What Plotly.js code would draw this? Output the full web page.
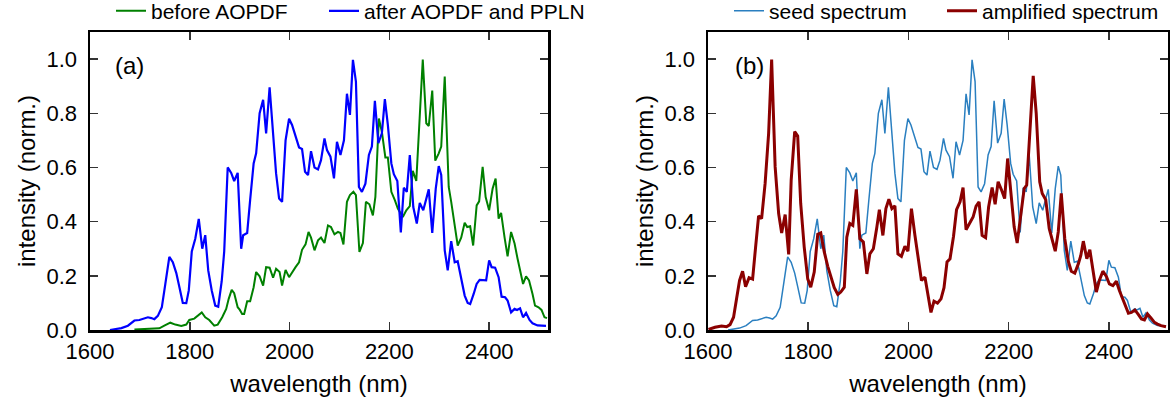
<!DOCTYPE html>
<html>
<head>
<meta charset="utf-8">
<script src="https://cdn.plot.ly/plotly-3.0.1.min.js"></script>
<style>html,body{margin:0;padding:0;background:#fff;}#chart{width:1170px;height:403px;}</style>
</head>
<body>
<div id="chart"></div>
<script>
// (a) after AOPDF and PPLN  (also the seed spectrum in (b))
const wlAfter = [1640,1650,1663,1676,1689,1699,1706,1716,1723,1729,1736,1744,1751,1759,1766,1773,1779,1786,1793,1798,1804,1811,1818,1825,1831,1837,1844,1851,1857,1864,1869,1876,1883,1889,1896,1903,1907,1915,1921,1928,1933,1940,1947,1953,1960,1967,1973,1979,1985,1992,1999,2005,2012,2019,2025,2031,2037,2043,2050,2057,2063,2070,2075,2082,2089,2095,2102,2109,2115,2121,2127,2133,2139,2145,2152,2159,2165,2171,2178,2185,2191,2197,2204,2209,2216,2223,2229,2235,2241,2248,2255,2261,2268,2273,2279,2286,2293,2299,2304,2311,2317,2324,2331,2337,2344,2351,2357,2362,2369,2375,2381,2387,2394,2400,2405,2412,2419,2425,2432,2437,2444,2451,2456,2462,2468,2474,2481,2487,2497,2514];
const afterAOPDF = [0,0.003,0.007,0.016,0.035,0.037,0.04,0.047,0.044,0.04,0.052,0.084,0.17,0.27,0.25,0.21,0.16,0.10,0.099,0.146,0.29,0.337,0.41,0.30,0.35,0.22,0.146,0.09,0.086,0.18,0.29,0.60,0.58,0.55,0.58,0.30,0.35,0.358,0.48,0.615,0.652,0.80,0.85,0.726,0.896,0.738,0.578,0.485,0.473,0.70,0.78,0.757,0.714,0.674,0.668,0.584,0.572,0.66,0.60,0.593,0.627,0.707,0.664,0.64,0.56,0.695,0.646,0.70,0.872,0.794,0.997,0.917,0.528,0.51,0.54,0.646,0.677,0.846,0.69,0.726,0.852,0.757,0.615,0.575,0.55,0.36,0.525,0.51,0.646,0.454,0.393,0.469,0.442,0.479,0.519,0.358,0.522,0.605,0.572,0.294,0.22,0.328,0.25,0.254,0.183,0.127,0.10,0.096,0.133,0.17,0.185,0.185,0.183,0.257,0.232,0.23,0.195,0.123,0.121,0.109,0.065,0.078,0.074,0.08,0.047,0.063,0.037,0.025,0.017,0.015];

// (a) before AOPDF
const wlBefore = [1689,1723,1739,1749,1761,1771,1783,1793,1799,1809,1816,1824,1831,1839,1849,1856,1865,1873,1878,1884,1889,1896,1900,1905,1909,1915,1921,1928,1933,1940,1947,1953,1960,1967,1973,1980,1985,1992,1999,2005,2012,2019,2025,2032,2038,2043,2050,2057,2063,2070,2077,2083,2090,2097,2102,2108,2115,2121,2128,2133,2140,2147,2153,2160,2167,2172,2179,2185,2192,2197,2204,2211,2217,2227,2234,2241,2247,2254,2261,2267,2274,2279,2286,2292,2299,2304,2311,2319,2324,2331,2337,2344,2351,2356,2362,2368,2375,2380,2387,2393,2400,2407,2413,2419,2424,2431,2437,2444,2451,2457,2463,2468,2474,2480,2487,2492,2499,2505,2511,2516];
const beforeAOPDF = [0.002,0.004,0.006,0.016,0.027,0.02,0.015,0.02,0.037,0.042,0.052,0.065,0.047,0.037,0.016,0.02,0.047,0.078,0.115,0.148,0.136,0.084,0.075,0.059,0.059,0.106,0.106,0.158,0.214,0.198,0.164,0.232,0.23,0.193,0.226,0.214,0.164,0.222,0.195,0.214,0.232,0.25,0.296,0.316,0.362,0.341,0.294,0.331,0.341,0.321,0.386,0.38,0.353,0.362,0.358,0.316,0.473,0.498,0.51,0.498,0.288,0.321,0.473,0.464,0.423,0.491,0.781,0.732,0.637,0.637,0.51,0.479,0.448,0.417,0.442,0.457,0.588,0.55,0.794,0.998,0.763,0.753,0.884,0.625,0.652,0.677,0.936,0.528,0.473,0.393,0.312,0.341,0.396,0.38,0.383,0.312,0.46,0.475,0.602,0.491,0.442,0.522,0.559,0.411,0.432,0.341,0.272,0.362,0.319,0.263,0.214,0.17,0.198,0.183,0.133,0.09,0.084,0.074,0.047,0.044];

// (b) seed spectrum = spectrum after AOPDF and PPLN
const wlSeed = wlAfter;
const seedSpectrum = afterAOPDF;

// (b) amplified spectrum
const wlAmp = [1601,1614,1627,1637,1644,1651,1657,1663,1669,1675,1682,1689,1695,1701,1707,1714,1721,1727,1734,1741,1747,1754,1761,1766,1773,1779,1785,1792,1799,1805,1812,1819,1825,1832,1839,1845,1852,1859,1865,1872,1877,1883,1889,1896,1903,1910,1917,1923,1930,1937,1942,1949,1955,1961,1967,1973,1979,1986,1993,1999,2006,2013,2019,2026,2033,2039,2045,2051,2058,2065,2071,2077,2083,2090,2096,2103,2109,2115,2122,2129,2135,2141,2147,2154,2160,2167,2173,2179,2186,2192,2198,2203,2211,2217,2224,2231,2236,2243,2249,2255,2262,2267,2274,2281,2287,2293,2299,2305,2312,2319,2325,2332,2339,2344,2349,2356,2362,2368,2375,2381,2388,2395,2401,2408,2415,2421,2428,2434,2439,2445,2452,2459,2465,2471,2477,2484,2491,2497,2504,2514];
const amplified = [0.002,0.01,0.015,0.012,0.02,0.047,0.115,0.183,0.217,0.16,0.193,0.188,0.306,0.421,0.411,0.541,0.726,0.998,0.602,0.43,0.358,0.426,0.279,0.553,0.732,0.716,0.467,0.306,0.189,0.158,0.214,0.353,0.358,0.288,0.235,0.195,0.156,0.131,0.14,0.158,0.343,0.393,0.386,0.519,0.337,0.325,0.207,0.281,0.30,0.38,0.444,0.349,0.448,0.483,0.448,0.458,0.281,0.272,0.309,0.291,0.448,0.349,0.269,0.183,0.195,0.121,0.065,0.106,0.099,0.115,0.156,0.251,0.263,0.346,0.444,0.473,0.526,0.37,0.393,0.417,0.457,0.473,0.349,0.341,0.454,0.526,0.464,0.547,0.516,0.485,0.633,0.535,0.38,0.321,0.43,0.522,0.535,0.738,0.938,0.80,0.547,0.504,0.481,0.374,0.331,0.291,0.362,0.504,0.337,0.254,0.217,0.21,0.244,0.275,0.328,0.263,0.296,0.226,0.14,0.183,0.217,0.198,0.17,0.164,0.18,0.146,0.111,0.084,0.062,0.065,0.074,0.057,0.041,0.037,0.059,0.044,0.028,0.022,0.016,0.012];

const xTicks = [1600,1800,2000,2200,2400];
const yTicks = [0,0.2,0.4,0.6,0.8,1.0];
const xLabel = 'wavelength (nm)';
const yLabel = 'intensity (norm.)';
const panelLabels = ['(a)','(b)'];

const FONT = 'Liberation Sans, Arial, sans-serif';

const traces = [
  {x: wlBefore, y: beforeAOPDF, name: 'before AOPDF', type: 'scatter', mode: 'lines',
   line: {color: '#008000', width: 2}, xaxis: 'x', yaxis: 'y', legend: 'legend'},
  {x: wlAfter, y: afterAOPDF, name: 'after AOPDF and PPLN', type: 'scatter', mode: 'lines',
   line: {color: '#0000ff', width: 2.2}, xaxis: 'x', yaxis: 'y', legend: 'legend2'},
  {x: wlSeed, y: seedSpectrum, name: 'seed spectrum', type: 'scatter', mode: 'lines',
   line: {color: '#2a7fc0', width: 1.5}, xaxis: 'x2', yaxis: 'y2', legend: 'legend3'},
  {x: wlAmp, y: amplified, name: 'amplified spectrum', type: 'scatter', mode: 'lines',
   line: {color: '#8b0000', width: 3}, xaxis: 'x2', yaxis: 'y2', legend: 'legend4'}
];

function xax(domain, anchor) {
  return {
    domain: domain, anchor: anchor, range: [1600, 2518],
    tickvals: xTicks, ticktext: xTicks.map(String),
    ticks: 'inside', ticklen: 8, tickwidth: 1.5, tickcolor: '#333',
    showline: true, linewidth: 2.5, linecolor: '#000', mirror: 'ticks',
    showgrid: false, zeroline: false, automargin: false,
    tickfont: {family: FONT, size: 22, color: '#000'},
    title: {text: xLabel, font: {family: FONT, size: 24, color: '#000'}, standoff: 13}
  };
}
function yax(anchor) {
  return {
    domain: [0, 1], anchor: anchor, range: [0, 1.1],
    tickvals: yTicks, ticktext: yTicks.map(v => v.toFixed(1)),
    ticks: 'inside', ticklen: 8, tickwidth: 1.5, tickcolor: '#333',
    showline: true, linewidth: 2.5, linecolor: '#000', mirror: 'ticks',
    showgrid: false, zeroline: false, automargin: false,
    ticklabelstandoff: 6,
    tickfont: {family: FONT, size: 22, color: '#000'},
    title: {text: yLabel, font: {family: FONT, size: 24, color: '#000'}, standoff: 4}
  };
}
function leg(x) {
  return {x: x, y: 1.07, xanchor: 'left', yanchor: 'middle', orientation: 'h',
    font: {family: FONT, size: 21, color: '#000'}, bgcolor: 'rgba(0,0,0,0)', borderwidth: 0};
}

const layout = {
  width: 1170, height: 403,
  margin: {l: 0, r: 0, t: 32, b: 73, autoexpand: false},
  paper_bgcolor: '#fff', plot_bgcolor: '#fff',
  showlegend: true,
  xaxis: xax([90/1170, 548/1170], 'y'),
  yaxis: yax('x'),
  xaxis2: xax([708/1170, 1168/1170], 'y2'),
  yaxis2: yax('x2'),
  legend: leg(111/1170),
  legend2: leg(324/1170),
  legend3: leg(729/1170),
  legend4: leg(942/1170),
  annotations: [
    {xref: 'x domain', yref: 'y domain', x: 0.05, y: 0.886, xanchor: 'left', yanchor: 'middle',
     text: panelLabels[0], showarrow: false, font: {family: FONT, size: 24, color: '#000'}},
    {xref: 'x2 domain', yref: 'y2 domain', x: 0.054, y: 0.886, xanchor: 'left', yanchor: 'middle',
     text: panelLabels[1], showarrow: false, font: {family: FONT, size: 24, color: '#000'}}
  ]
};

Plotly.newPlot('chart', traces, layout, {staticPlot: true, displayModeBar: false});
</script>
</body>
</html>
